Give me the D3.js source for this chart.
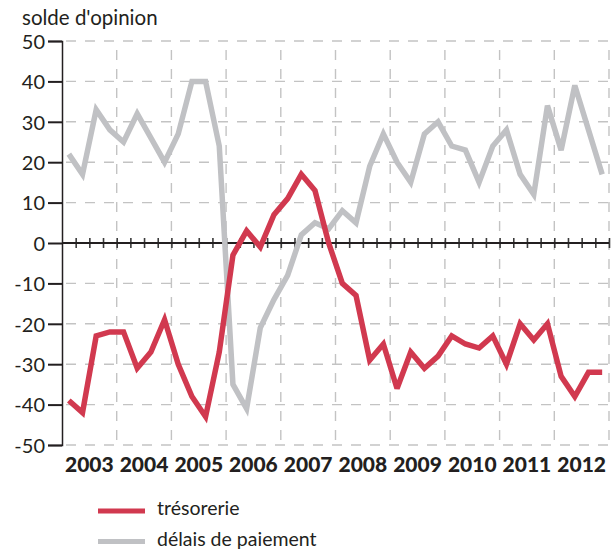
<!DOCTYPE html>
<html>
  <head>
    <meta charset="utf-8">
    <script src="https://d3js.org/d3.v7.min.js"></script>
    <style>
      body { margin: 0; background: #fff; }
      svg text { font-family: "Lato", "Open Sans", sans-serif; fill: #231f20; }
    </style>
  </head>
<body>
  <script type="text/javascript">
    // quarterly values, 2003 Q1 -> 2012 Q4
    var years = ["2003", "2004", "2005", "2006", "2007", "2008", "2009", "2010", "2011", "2012"];
    var yTicks = [50, 40, 30, 20, 10, 0, -10, -20, -30, -40, -50];

    var tresorerie = [-39, -42, -23, -22, -22, -31, -27, -19,
                      -30, -38, -43, -27, -3, 3, -1, 7,
                      11, 17, 13, 0, -10, -13, -29, -25,
                      -36, -27, -31, -28, -23, -25, -26, -23,
                      -30, -20, -24, -20, -33, -38, -32, -32];

    var delais = [22, 17, 33, 28, 25, 32, 26, 20,
                  27, 40, 40, 24, -35, -41, -21, -14,
                  -8, 2, 5, 3.5, 8, 5, 19, 27,
                  20, 15, 27, 30, 24, 23, 15, 24,
                  28, 17, 12, 34, 23, 39, 28, 17];

    var series = [
      { name: "délais de paiement", values: delais, color: "#c0c1c4" },
      { name: "trésorerie", values: tresorerie, color: "#d1394f" }
    ];

    var width = 614, height = 549;
    var svg = d3.select("body").append("svg")
        .attr("width", width)
        .attr("height", height);

    var x = d3.scaleLinear().domain([0, 40]).range([62, 609]);
    var y = d3.scaleLinear().domain([-50, 50]).range([445, 41]);

    // title
    svg.append("text")
        .attr("x", 22)
        .attr("y", 25)
        .style("font-size", "20.5px")
        .text("solde d'opinion");

    // dashed grid
    var grid = svg.append("g")
        .attr("stroke", "#c3c3c3")
        .attr("stroke-width", 1.4)
        .attr("stroke-dasharray", "10,9");

    grid.selectAll("line.h")
        .data(yTicks.filter(function (d) { return d !== 0; }))
        .enter().append("line")
        .attr("class", "h")
        .attr("x1", x(0) + 4).attr("x2", x(40))
        .attr("y1", function (d) { return y(d); })
        .attr("y2", function (d) { return y(d); });

    grid.selectAll("line.v")
        .data(d3.range(1, years.length + 1))
        .enter().append("line")
        .attr("class", "v")
        .attr("x1", function (d) { return x(d * 4); })
        .attr("x2", function (d) { return x(d * 4); })
        .attr("y1", y(50) + 9).attr("y2", y(-50));

    // y axis
    var yAxis = d3.axisLeft(y).tickValues(yTicks).tickSize(14).tickPadding(4)
        .tickFormat(function (d) { return d; });
    var gy = svg.append("g")
        .attr("transform", "translate(" + x(0) + ",0)")
        .call(yAxis);
    gy.select(".domain").attr("stroke", "#231f20").attr("stroke-width", 1.5);
    gy.selectAll(".tick line").attr("stroke", "#231f20").attr("stroke-width", 2);
    gy.selectAll(".tick text")
        .style("font-size", "20px")
        .style("font-family", "Lato, sans-serif")
        .attr("fill", "#231f20")
        .attr("x", -17)
        .attr("dy", "0.36em");

    // zero axis with quarter ticks
    var xAxis = d3.axisBottom(x).tickValues(d3.range(1, 41)).tickSize(10).tickFormat("");
    var gx = svg.append("g")
        .attr("transform", "translate(0," + (y(0) - 5) + ")")
        .call(xAxis);
    gx.select(".domain").remove();
    gx.selectAll(".tick line").attr("stroke", "#3a3a3a").attr("stroke-width", 1.6);
    svg.append("line")
        .attr("x1", x(0)).attr("x2", x(40))
        .attr("y1", y(0)).attr("y2", y(0))
        .attr("stroke", "#231f20")
        .attr("stroke-width", 2.2);

    // year labels, centred in each year
    svg.selectAll("text.year")
        .data(years)
        .enter().append("text")
        .attr("class", "year")
        .attr("x", function (d, i) { return x(i * 4 + 2); })
        .attr("y", 472)
        .attr("text-anchor", "middle")
        .style("font-size", "21px")
        .style("font-weight", "900")
        .text(function (d) { return d; });

    // lines
    var line = d3.line()
        .x(function (d, i) { return x(i + 0.5); })
        .y(function (d) { return y(d); });

    svg.selectAll("path.serie")
        .data(series)
        .enter().append("path")
        .attr("class", "serie")
        .attr("d", function (d) { return line(d.values); })
        .attr("fill", "none")
        .attr("stroke", function (d) { return d.color; })
        .attr("stroke-width", 5.5)
        .attr("stroke-linejoin", "miter")
        .attr("stroke-miterlimit", 3);

    // legend
    var legendItems = series.slice().reverse();
    var legend = svg.selectAll("g.legend")
        .data(legendItems)
        .enter().append("g")
        .attr("class", "legend")
        .attr("transform", function (d, i) { return "translate(98," + (511 + i * 30.5) + ")"; });
    legend.append("line")
        .attr("x1", 0).attr("x2", 47)
        .attr("stroke", function (d) { return d.color; })
        .attr("stroke-width", 5);
    legend.append("text")
        .attr("x", 59)
        .attr("y", 4)
        .style("font-size", "19.5px")
        .text(function (d) { return d.name; });
  </script>
</body>
</html>
